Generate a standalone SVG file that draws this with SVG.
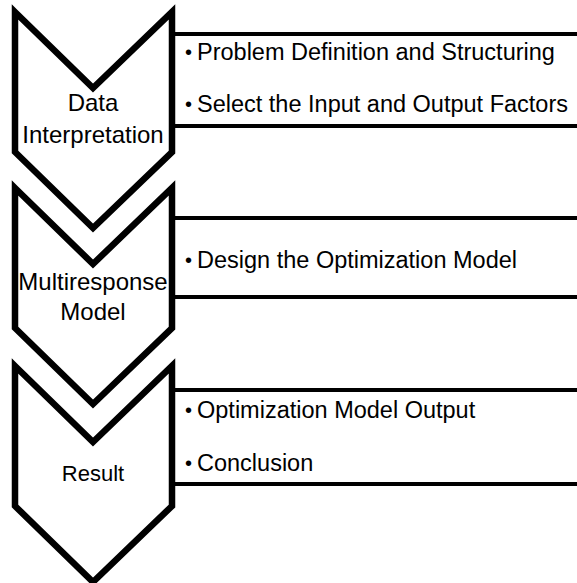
<svg xmlns="http://www.w3.org/2000/svg" width="577" height="583" viewBox="0 0 577 583">
<style>
.chev{fill:#fff;stroke:#000;stroke-width:6.5;stroke-linejoin:miter;stroke-miterlimit:10}
.band{fill:none;stroke:#000;stroke-width:4}
.lbl{font-family:"Liberation Sans",Arial,sans-serif;font-size:24px;fill:#000;text-anchor:middle}
.item{font-family:"Liberation Sans",Arial,sans-serif;font-size:23.5px;fill:#000}
.dot{font-family:"Liberation Sans",Arial,sans-serif;font-size:20px;fill:#000}
</style>
<rect width="577" height="583" fill="#fff"/>
<g id="band1">
<path class="band" d="M172 34H580M172 126H580"/>
<text class="dot" x="185" y="59">•</text>
<text class="item" x="197" y="60">Problem Definition and Structuring</text>
<text class="dot" x="185" y="111">•</text>
<text class="item" x="197" y="112">Select the Input and Output Factors</text>
</g>
<g id="band2">
<path class="band" d="M172 218H580M172 297H580"/>
<text class="dot" x="185" y="267">•</text>
<text class="item" x="197" y="268">Design the Optimization Model</text>
</g>
<g id="band3">
<path class="band" d="M172 390H580M172 484H580"/>
<text class="dot" x="185" y="417">•</text>
<text class="item" x="197" y="418">Optimization Model Output</text>
<text class="dot" x="185" y="470">•</text>
<text class="item" x="197" y="471">Conclusion</text>
</g>
<g id="step1">
<path class="chev" d="M15 12L93 88L172 12V152L93 228L15 152Z"/>
<text class="lbl" x="93" y="111">Data</text>
<text class="lbl" x="93" y="143">Interpretation</text>
</g>
<g id="step2">
<path class="chev" d="M15 188L93 264L172 188V328L93 404L15 328Z"/>
<text class="lbl" x="93" y="290">Multiresponse</text>
<text class="lbl" x="93" y="320">Model</text>
</g>
<g id="step3">
<path class="chev" d="M15 366L93 442L172 366V506L93 582L15 506Z"/>
<text class="lbl" x="93" y="481" style="font-size:22px">Result</text>
</g>
</svg>
